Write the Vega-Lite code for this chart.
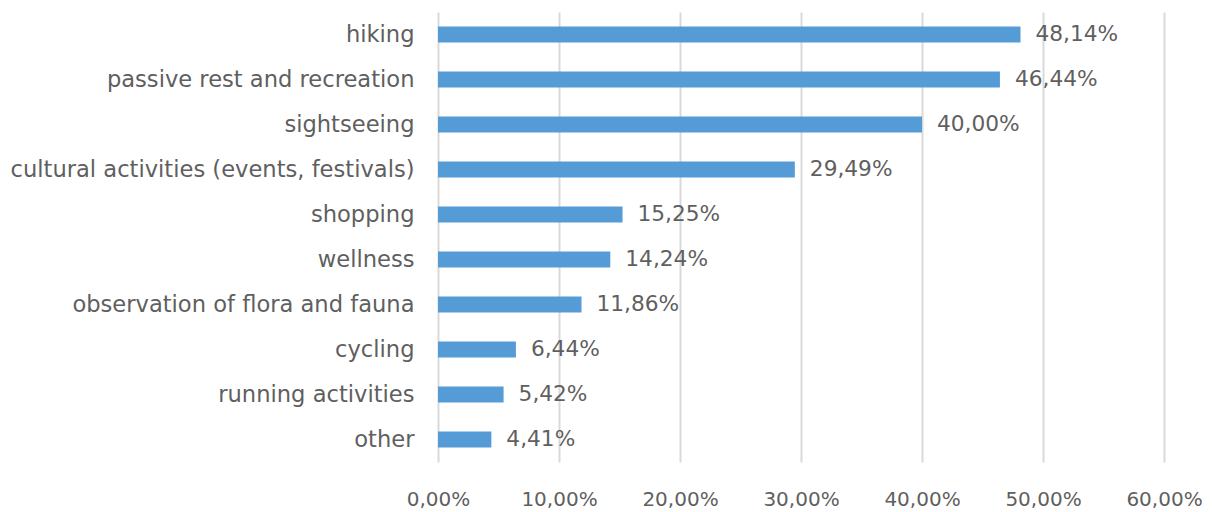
{
  "$schema": "https://vega.github.io/schema/vega-lite/v6.json",
  "width": 726,
  "height": 450,
  "autosize": "none",
  "padding": {"left": 438, "top": 12, "right": 48, "bottom": 50},
  "background": "white",
  "config": {
    "locale": {"number": {"decimal": ",", "thousands": ".", "grouping": [3], "currency": ["", " €"]}},
    "view": {"stroke": null},
    "font": "DejaVu Sans"
  },
  "data": {"values": [
    {"activity": "hiking", "share": 0.4814},
    {"activity": "passive rest and recreation", "share": 0.4644},
    {"activity": "sightseeing", "share": 0.4000},
    {"activity": "cultural activities (events, festivals)", "share": 0.2949},
    {"activity": "shopping", "share": 0.1525},
    {"activity": "wellness", "share": 0.1424},
    {"activity": "observation of flora and fauna", "share": 0.1186},
    {"activity": "cycling", "share": 0.0644},
    {"activity": "running activities", "share": 0.0542},
    {"activity": "other", "share": 0.0441}
  ]},
  "encoding": {
    "y": {"field": "activity", "type": "nominal", "sort": null,
      "scale": {"paddingInner": 0.64, "paddingOuter": 0.32},
      "axis": {"title": null, "domain": false, "ticks": false, "grid": false, "labelPadding": 24, "labelFontSize": 22.6, "labelLimit": 600, "labelColor": "#5f5f5f", "labelFont": "DejaVu Sans"}},
    "x": {"field": "share", "type": "quantitative",
      "scale": {"domain": [0, 0.6], "nice": false},
      "axis": {"title": null, "format": ".2%", "values": [0, 0.1, 0.2, 0.3, 0.4, 0.5, 0.6], "domain": false, "ticks": false, "grid": true, "gridColor": "#d9d9d9", "gridWidth": 2, "labelPadding": 27, "labelFontSize": 20, "labelColor": "#5f5f5f", "labelFont": "DejaVu Sans", "labelOverlap": false, "labelBound": false, "labelFlush": false}}
  },
  "layer": [
    {"mark": {"type": "bar", "color": "#559bd5"}},
    {"mark": {"type": "text", "align": "left", "baseline": "middle", "dx": 15, "dy": -1, "fontSize": 21.7, "color": "#5f5f5f", "font": "DejaVu Sans"},
     "encoding": {"text": {"field": "share", "type": "quantitative", "format": ".2%"}}}
  ]
}
